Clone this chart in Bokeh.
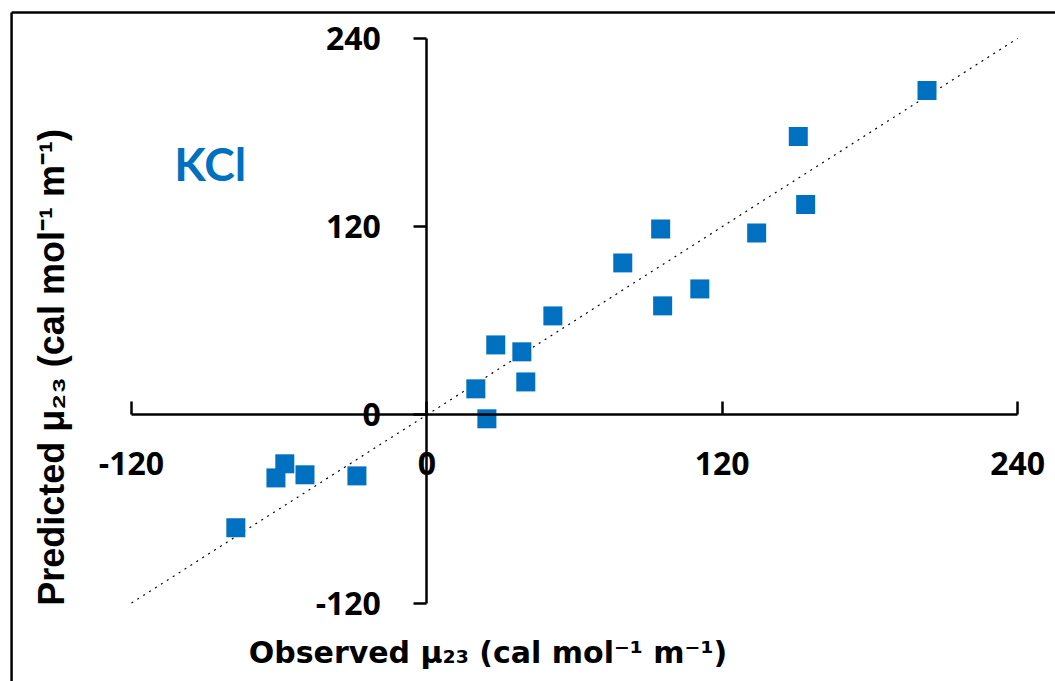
import math
from bokeh.plotting import figure
from bokeh.models import (Range1d, LinearAxis, FixedTicker, Label, ColumnDataSource)
from bokeh.embed import file_html
from bokeh.resources import INLINE

# ---- data ----
observed = [203.2, 150.9, 153.9, 134.0, 95.0, 79.6, 110.9, 95.8, 51.2, 28.0,
            38.6, 40.2, 19.9, 24.4, -57.7, -61.3, -49.5, -28.4, -77.6]
predicted = [206.8, 177.5, 134.2, 116.0, 118.5, 96.9, 80.3, 69.5, 63.1, 44.6,
             40.2, 21.0, 16.6, -2.5, -31.2, -40.2, -38.2, -38.9, -72.0]
ref_line_x = [-120, 240]
ref_line_y = [-120, 240]
x_ticks = [-120, 0, 120, 240]
y_ticks = [-120, 0, 120, 240]
tick_text = {-120: "-120", 0: "0", 120: "120", 240: "240"}
x_title = "Observed \u03bc\u2082\u2083 (cal mol\u207b\u00b9 m\u207b\u00b9)"
y_title = "Predicted \u03bc\u2082\u2083  (cal mol\u207b\u00b9 m\u207b\u00b9)"
series_label = "KCl"

BLUE = "#0070C0"
TICK_FONT = "Open Sans"
W, H = 1055, 681

# The plotting frame covers the whole canvas so that nothing gets clipped;
# the axes are drawn at the origin and bounded to [-120, 240].
p = figure(width=W, height=H, output_backend="svg", toolbar_location=None,
           x_range=Range1d(-173.2, 255.4), y_range=Range1d(-170.0, 264.2),
           x_axis_location=None, y_axis_location=None,
           min_border=0)
p.outline_line_color = None
p.xgrid.visible = False
p.ygrid.visible = False
p.background_fill_color = "white"
p.border_fill_color = "white"

# outer chart-area border: only its top and left edges fall inside the window
border_x0 = [-168.7, -168.7]
border_y0 = [256.5, 256.5]
border_x1 = [-168.7, 400]
border_y1 = [-300, 256.5]
p.segment(border_x0, border_y0, border_x1, border_y1,
          line_color="black", line_width=2.5)

# axes crossing at the origin
xaxis = LinearAxis(fixed_location=0, ticker=FixedTicker(ticks=x_ticks),
                   bounds=(-120, 240),
                   major_label_overrides=tick_text,
                   major_tick_in=13, major_tick_out=0,
                   minor_tick_in=0, minor_tick_out=0,
                   axis_line_width=2.5, major_tick_line_width=2.5,
                   axis_line_color="black", major_tick_line_color="black",
                   major_label_standoff=37,
                   major_label_text_font=TICK_FONT,
                   major_label_text_font_size="32px",
                   major_label_text_font_style="bold",
                   major_label_text_color="black")
p.add_layout(xaxis, "below")

yaxis = LinearAxis(fixed_location=0, ticker=FixedTicker(ticks=y_ticks),
                   bounds=(-120, 240),
                   major_label_overrides=tick_text,
                   major_tick_in=0, major_tick_out=13,
                   minor_tick_in=0, minor_tick_out=0,
                   axis_line_width=2.5, major_tick_line_width=2.5,
                   axis_line_color="black", major_tick_line_color="black",
                   major_label_standoff=33,
                   major_label_text_font=TICK_FONT,
                   major_label_text_font_size="32px",
                   major_label_text_font_style="bold",
                   major_label_text_color="black",
                   major_label_orientation="horizontal")
p.add_layout(yaxis, "left")

# 1:1 reference line
p.line(ref_line_x, ref_line_y, line_color="black", line_width=1.2,
       line_dash="2 5")

src = ColumnDataSource(dict(x=observed, y=predicted))
p.scatter("x", "y", source=src, marker="square", size=19,
          fill_color=BLUE, line_color=BLUE, line_width=0)

# titles (screen units: x from left, y up from the bottom of the canvas)
p.add_layout(Label(x=487.5, y=H - 652, x_units="screen", y_units="screen",
                   text=x_title, text_align="center", text_baseline="middle",
                   text_font="DejaVu Sans", text_font_size="30px",
                   text_font_style="bold", text_color="black"))
p.add_layout(Label(x=51, y=H - 362, x_units="screen", y_units="screen",
                   text=y_title, angle=math.pi / 2,
                   text_align="center", text_baseline="middle",
                   text_font="Liberation Sans", text_font_size="36px",
                   text_font_style="bold", text_color="black"))
p.add_layout(Label(x=-88, y=160.5, text=series_label,
                   text_align="center", text_baseline="middle",
                   text_font="Lato", text_font_size="46px",
                   text_font_style="bold", text_color=BLUE))

open("out.html", "w").write(file_html(p, INLINE))
